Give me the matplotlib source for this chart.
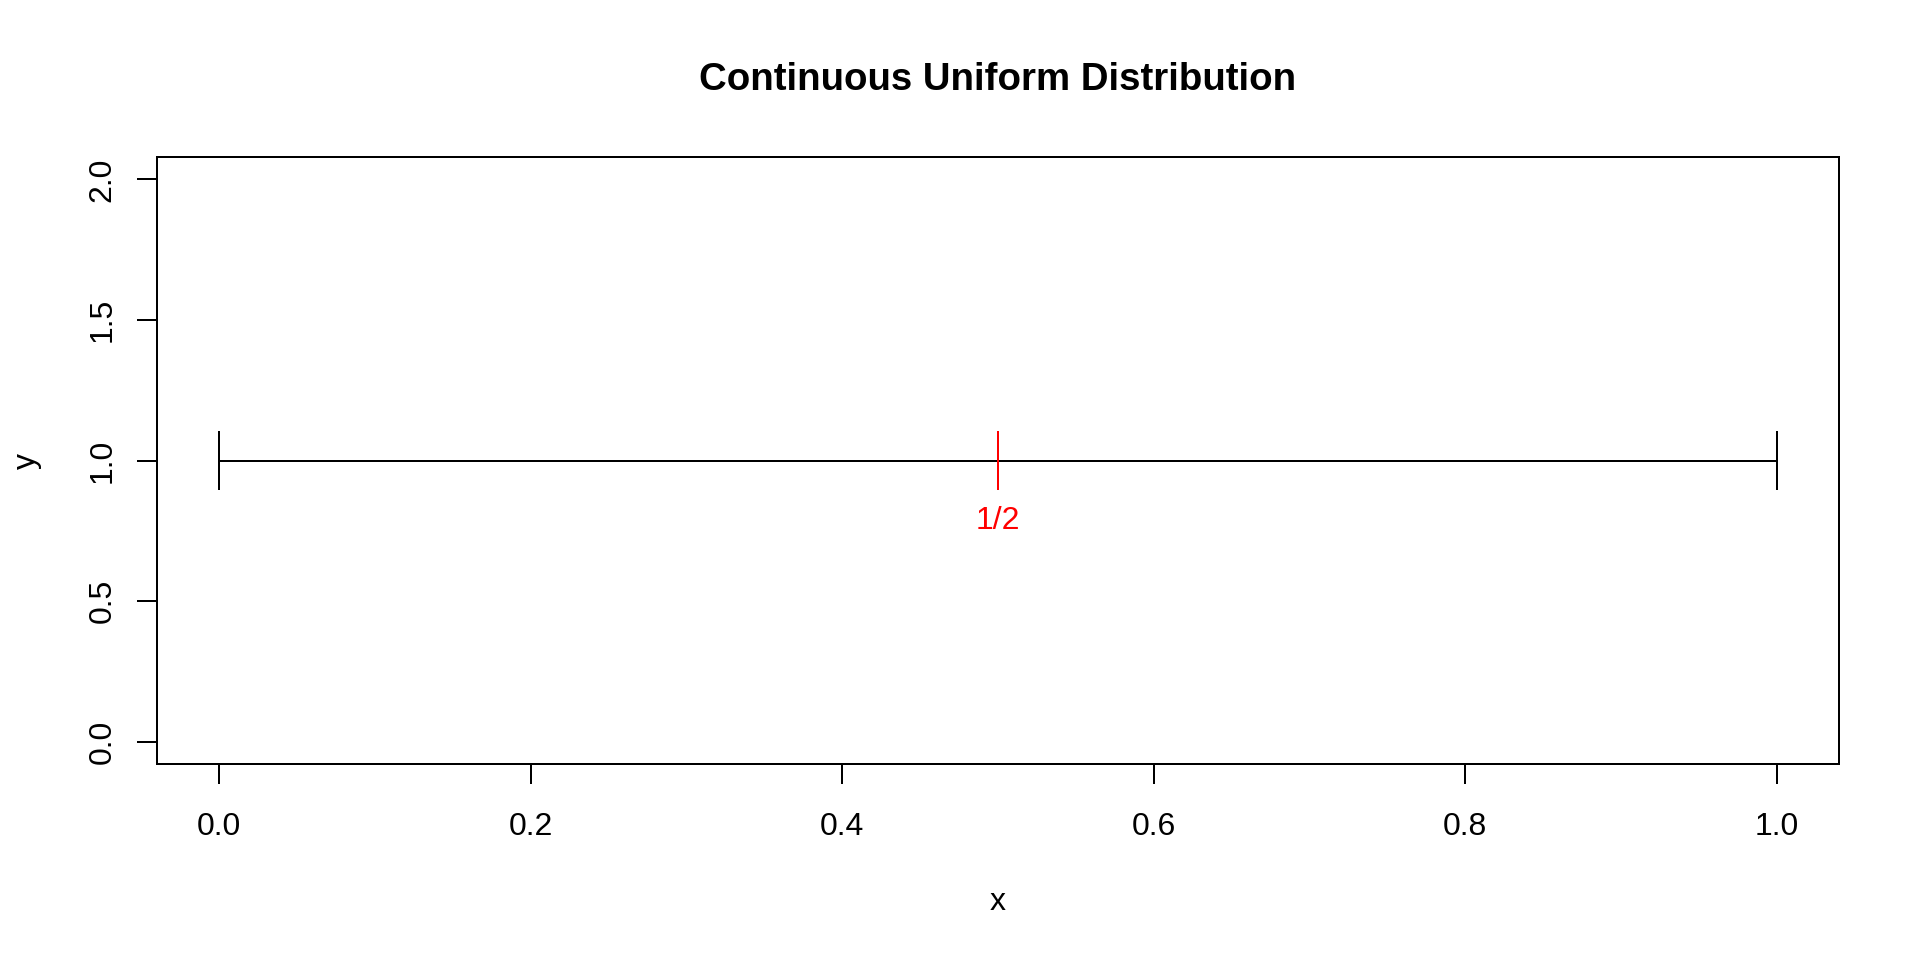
import matplotlib
matplotlib.use("Agg")
import matplotlib.pyplot as plt

seg_x = [0.0, 1.0]
seg_y = [1.0, 1.0]
mid_x = 0.5
mid_label = "1/2"
xticks = [0.0, 0.2, 0.4, 0.6, 0.8, 1.0]
yticks = [0.0, 0.5, 1.0, 1.5, 2.0]

plt.rcParams['font.family'] = ['Liberation Sans', 'DejaVu Sans']
fig = plt.figure(figsize=(19.2, 9.6), dpi=100)
L, R, B, T = 157 / 1920, 1839 / 1920, 1 - 764 / 960, 1 - 157 / 960
ax = fig.add_axes([L, B, R - L, T - B])
lw = 1.44
fs = 23
ax.plot(seg_x, seg_y, color='black', lw=lw)
for xv in seg_x:
    ax.plot([xv, xv], [0.9, 1.1], color='black', lw=lw)
ax.plot([mid_x, mid_x], [0.9, 1.1], color='red', lw=lw)
ax.text(mid_x, 0.785, mid_label, color='red', ha='center', va='center', fontsize=fs)

ax.set_xlim(-0.04, 1.04)
ax.set_ylim(-0.08, 2.08)
ax.set_xticks(xticks)
ax.set_xticklabels([f"{v:.1f}" for v in xticks])
ax.set_yticks(yticks)
ax.set_yticklabels([f"{v:.1f}" for v in yticks], rotation=90, va='center')
ax.tick_params(axis='both', length=14.4, width=lw, labelsize=fs)
ax.tick_params(axis='x', pad=20)
ax.tick_params(axis='y', pad=14)
for s in ax.spines.values():
    s.set_linewidth(lw)

cx = (L + R) / 2
fig.text(cx, 1 - 80 / 960, "Continuous Uniform Distribution", ha='center', va='center',
         fontsize=27.6, fontweight='bold')
fig.text(cx, 1 - 902 / 960, "x", ha='center', va='center', fontsize=fs)
fig.text(27 / 1920, (B + T) / 2, "y", ha='center', va='center', rotation=90, fontsize=fs)
fig.savefig("out.png", dpi=100, facecolor='white')
